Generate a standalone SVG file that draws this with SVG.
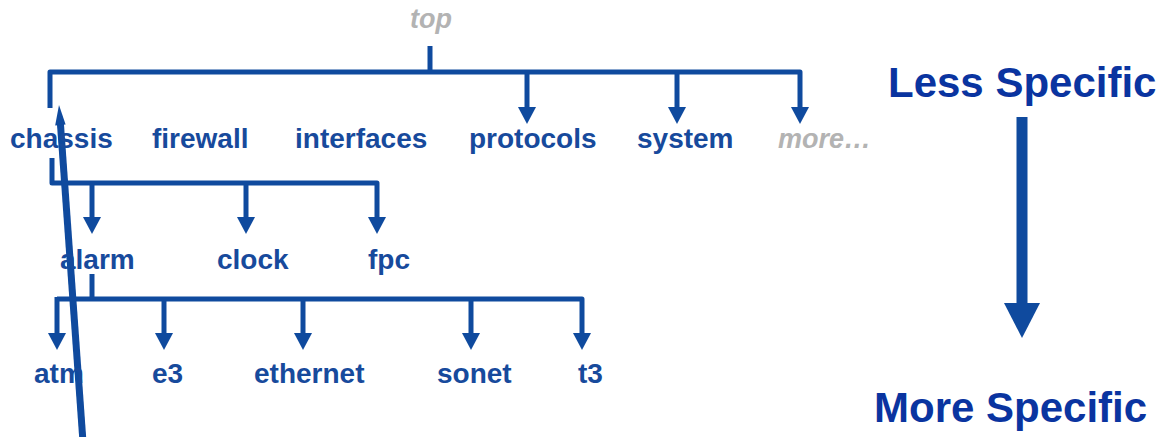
<svg xmlns="http://www.w3.org/2000/svg" width="1172" height="437" viewBox="0 0 1172 437">
<style>
.t{font-family:"Liberation Sans",Arial,sans-serif;font-weight:bold;font-size:28px;fill:#174a9c}
.g{font-family:"Liberation Sans",Arial,sans-serif;font-weight:bold;font-style:italic;font-size:27px;fill:#b3b3b3}
.big{font-family:"Liberation Sans",Arial,sans-serif;font-weight:bold;font-size:42px;fill:#0a34a0}
.c{fill:none;stroke:#0f4a9e;stroke-width:5;stroke-linejoin:round}
</style>
<defs>
<marker id="ah" viewBox="0 0 17 18" refX="0" refY="9" markerWidth="17" markerHeight="18" markerUnits="userSpaceOnUse" orient="auto">
<path d="M0,0 L17,9 L0,18 z" fill="#0f4a9e"/>
</marker>
</defs>
<rect width="1172" height="437" fill="#fff"/>
<g id="connectors">
<path class="c" d="M430,46 V72"/>
<path class="c" d="M50,108 V72 H800 V107" marker-end="url(#ah)"/>
<path class="c" d="M527,72 V107" marker-end="url(#ah)"/>
<path class="c" d="M677,72 V107" marker-end="url(#ah)"/>
<path class="c" d="M52,158 V183 H377 V217" marker-end="url(#ah)"/>
<path class="c" d="M92,183 V217" marker-end="url(#ah)"/>
<path class="c" d="M246,183 V217" marker-end="url(#ah)"/>
<path class="c" d="M92,274 V299"/>
<path class="c" d="M57,299 H582 V333" marker-end="url(#ah)"/>
<path class="c" d="M57,297 V333" marker-end="url(#ah)"/>
<path class="c" d="M164,299 V333" marker-end="url(#ah)"/>
<path class="c" d="M303,299 V333" marker-end="url(#ah)"/>
<path class="c" d="M471,299 V333" marker-end="url(#ah)"/>
<line x1="83" y1="442" x2="60.3" y2="122" stroke="#0f4a9e" stroke-width="7"/>
<polygon points="59,105 65.6,124.6 55.2,125.4" fill="#0f4a9e"/>
<line x1="1022" y1="117" x2="1022" y2="304" stroke="#0f4a9e" stroke-width="11"/>
<polygon points="1004,303 1040,303 1022,338" fill="#0f4a9e"/>
</g>
<g id="top"><text class="g" x="410" y="28">top</text></g>
<g id="chassis"><text class="t" x="10" y="148">chassis</text></g>
<g id="firewall"><text class="t" x="152" y="148">firewall</text></g>
<g id="interfaces"><text class="t" x="295" y="148">interfaces</text></g>
<g id="protocols"><text class="t" x="469" y="148">protocols</text></g>
<g id="system"><text class="t" x="637" y="148">system</text></g>
<g id="more"><text class="g" x="778" y="148">more…</text></g>
<g id="alarm"><text class="t" x="60" y="269">alarm</text></g>
<g id="clock"><text class="t" x="217" y="269">clock</text></g>
<g id="fpc"><text class="t" x="368" y="269">fpc</text></g>
<g id="atm"><text class="t" x="34" y="383">atm</text></g>
<g id="e3"><text class="t" x="152" y="383">e3</text></g>
<g id="ethernet"><text class="t" x="254" y="383">ethernet</text></g>
<g id="sonet"><text class="t" x="437" y="383">sonet</text></g>
<g id="t3"><text class="t" x="578" y="383">t3</text></g>
<g id="less"><text class="big" x="888" y="97">Less Specific</text></g>
<g id="moreSpecific"><text class="big" x="874" y="422">More Specific</text></g>
</svg>
